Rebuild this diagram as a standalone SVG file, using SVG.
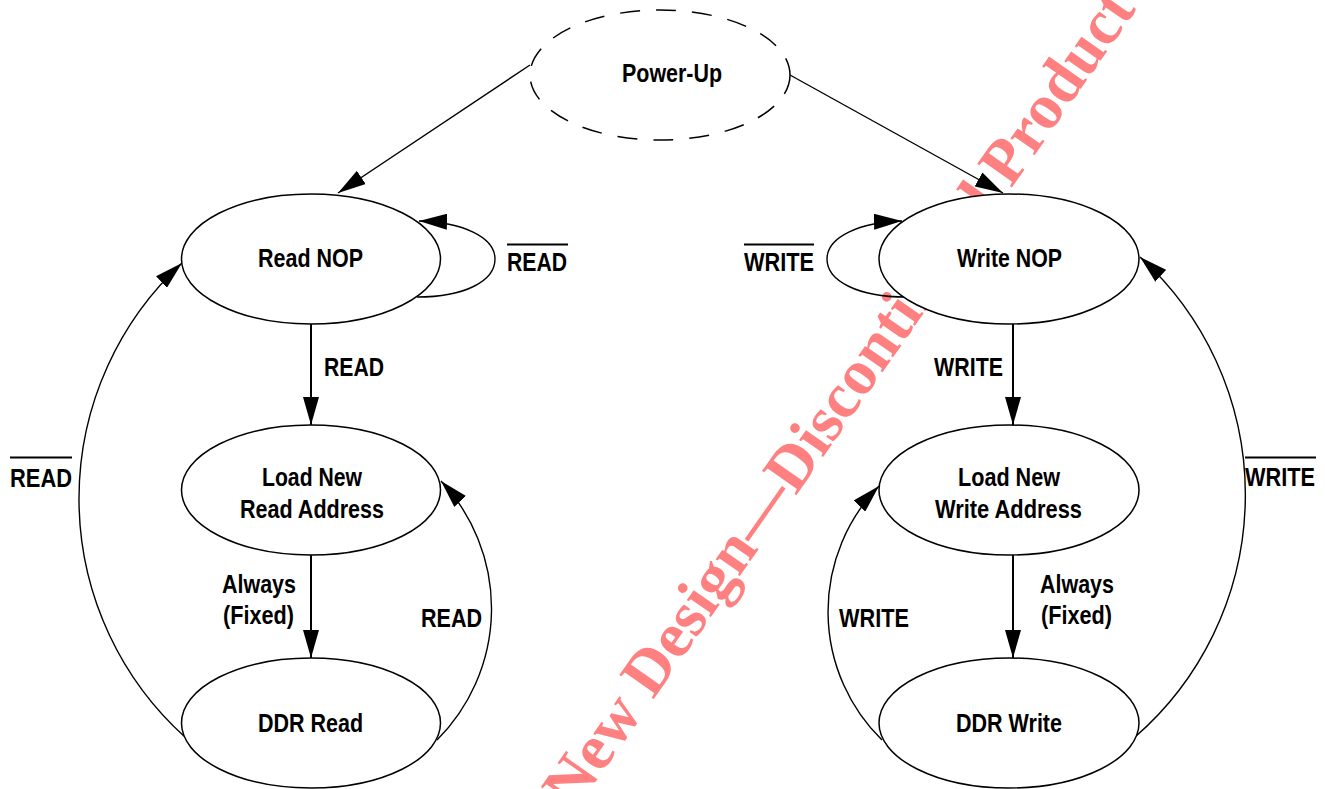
<svg xmlns="http://www.w3.org/2000/svg" width="1325" height="789" viewBox="0 0 1325 789">
<style>
.node{fill:#fff;stroke:#000;stroke-width:1.5}
.dash{fill:#fff;stroke:#000;stroke-width:1.5;stroke-dasharray:20 16}
.t{font-family:"Liberation Sans",Arial,Helvetica,sans-serif;font-weight:bold;font-size:25px;fill:#000}
.c{fill:none;stroke:#000;stroke-width:1.4}
.v{fill:none;stroke:#000;stroke-width:2}
.ol{stroke:#000;stroke-width:2}
.wm{font-family:"Liberation Serif","Times New Roman",serif;font-weight:bold;font-size:64px;fill:#FF8080}
</style>
<defs>
<marker id="ah" viewBox="0 0 28 16" refX="28" refY="8" markerWidth="28" markerHeight="16" markerUnits="userSpaceOnUse" orient="auto">
<path d="M0,0 L28,8 L0,16 z" fill="#000"/>
</marker>
</defs>
<rect width="1325" height="789" fill="#fff"/>
<text class="wm" x="574.5" y="812" transform="rotate(-55 574.5 812)">New Design—Discontinued Product</text>

<g id="connectors">
<path class="c" d="M530,65 L338,193" marker-end="url(#ah)"/>
<path class="c" d="M790,75 L1003,193" marker-end="url(#ah)"/>
<path class="c" d="M417,297 C465,297 495,281 495,259 C495,237 462,222 419,221" marker-end="url(#ah)"/>
<path class="c" d="M906,297 C858,297 827,281 827,259 C827,237 860,222 902,221" marker-end="url(#ah)"/>
<path class="v" d="M311,324 L311,425" marker-end="url(#ah)"/>
<path class="v" d="M311,555 L311,658" marker-end="url(#ah)"/>
<path class="v" d="M1013,324 L1013,425" marker-end="url(#ah)"/>
<path class="v" d="M1013,555 L1013,658" marker-end="url(#ah)"/>
<path class="c" d="M185,737 A321,321 0 0 1 182,263" marker-end="url(#ah)"/>
<path class="c" d="M1135,737 A321,321 0 0 0 1140,257" marker-end="url(#ah)"/>
<path class="c" d="M437,740 A186,186 0 0 0 441,481" marker-end="url(#ah)"/>
<path class="c" d="M882,740 A180,180 0 0 1 879,486" marker-end="url(#ah)"/>
</g>

<g id="power-up">
<ellipse class="dash" cx="660" cy="75" rx="130" ry="65"/>
<text class="t" x="622" y="82" textLength="100" lengthAdjust="spacingAndGlyphs">Power-Up</text>
</g>
<g id="read-nop">
<ellipse class="node" cx="311" cy="259" rx="129.5" ry="65"/>
<text class="t" x="258" y="267" textLength="105" lengthAdjust="spacingAndGlyphs">Read NOP</text>
</g>
<g id="load-read">
<ellipse class="node" cx="311" cy="490" rx="129.5" ry="65"/>
<text class="t" x="262" y="486" textLength="100" lengthAdjust="spacingAndGlyphs">Load New</text>
<text class="t" x="240" y="518" textLength="144" lengthAdjust="spacingAndGlyphs">Read Address</text>
</g>
<g id="ddr-read">
<ellipse class="node" cx="311" cy="723" rx="129.5" ry="65"/>
<text class="t" x="258" y="732" textLength="105" lengthAdjust="spacingAndGlyphs">DDR Read</text>
</g>
<g id="write-nop">
<ellipse class="node" cx="1009" cy="259" rx="130" ry="65"/>
<text class="t" x="957" y="267" textLength="105" lengthAdjust="spacingAndGlyphs">Write NOP</text>
</g>
<g id="load-write">
<ellipse class="node" cx="1009" cy="490" rx="130" ry="65"/>
<text class="t" x="958" y="486" textLength="102" lengthAdjust="spacingAndGlyphs">Load New</text>
<text class="t" x="935" y="518" textLength="147" lengthAdjust="spacingAndGlyphs">Write Address</text>
</g>
<g id="ddr-write">
<ellipse class="node" cx="1009" cy="723" rx="130" ry="65"/>
<text class="t" x="956" y="732" textLength="106" lengthAdjust="spacingAndGlyphs">DDR Write</text>
</g>

<g id="labels">
<text class="t" x="507" y="271" textLength="60" lengthAdjust="spacingAndGlyphs">READ</text>
<line class="ol" x1="507" y1="244.5" x2="568" y2="244.5"/>
<text class="t" x="744" y="271" textLength="70" lengthAdjust="spacingAndGlyphs">WRITE</text>
<line class="ol" x1="744" y1="244.5" x2="814" y2="244.5"/>
<text class="t" x="324" y="376" textLength="60" lengthAdjust="spacingAndGlyphs">READ</text>
<text class="t" x="934" y="376" textLength="69" lengthAdjust="spacingAndGlyphs">WRITE</text>
<text class="t" x="10" y="486.5" textLength="62" lengthAdjust="spacingAndGlyphs">READ</text>
<line class="ol" x1="10" y1="457.5" x2="72" y2="457.5"/>
<text class="t" x="1245" y="486" textLength="70" lengthAdjust="spacingAndGlyphs">WRITE</text>
<line class="ol" x1="1245" y1="457.5" x2="1316" y2="457.5"/>
<text class="t" x="222" y="593" textLength="74" lengthAdjust="spacingAndGlyphs">Always</text>
<text class="t" x="223" y="624" textLength="71" lengthAdjust="spacingAndGlyphs">(Fixed)</text>
<text class="t" x="421" y="627" textLength="61" lengthAdjust="spacingAndGlyphs">READ</text>
<text class="t" x="1040" y="593" textLength="74" lengthAdjust="spacingAndGlyphs">Always</text>
<text class="t" x="1041" y="624" textLength="71" lengthAdjust="spacingAndGlyphs">(Fixed)</text>
<text class="t" x="839" y="627" textLength="70" lengthAdjust="spacingAndGlyphs">WRITE</text>
</g>
</svg>
